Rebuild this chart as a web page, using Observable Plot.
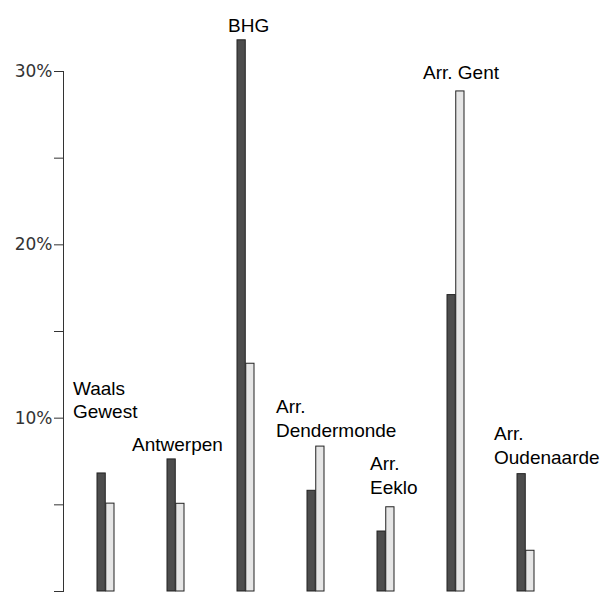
<!DOCTYPE html>
<html><head><meta charset="utf-8">
<script src="https://cdn.jsdelivr.net/npm/d3@7"></script>
<script src="https://cdn.jsdelivr.net/npm/@observablehq/plot@0.6"></script>
<style>body{margin:0;background:#fff}</style>
</head><body><div id="chart"></div>
<script>
const categories = ["Waals Gewest", "Antwerpen", "BHG", "Arr. Dendermonde", "Arr. Eeklo", "Arr. Gent", "Arr. Oudenaarde"];
const labelText = ["Waals\nGewest", "Antwerpen", "BHG", "Arr.\nDendermonde", "Arr.\nEeklo", "Arr. Gent", "Arr.\nOudenaarde"];
const darkValues = [6.81, 7.62, 31.8, 5.81, 3.46, 17.1, 6.77];
const lightValues = [5.07, 5.06, 13.14, 8.36, 4.86, 28.85, 2.35];
const tickValues = [0, 5, 10, 15, 20, 25, 30];
const labeledTicks = [10, 20, 30];

const rows = categories.map((c, i) => ({
  category: c,
  label: labelText[i],
  dark: darkValues[i],
  light: lightValues[i],
  top: Math.max(darkValues[i], lightValues[i])
}));

// annotation nudges (pixels) relative to each group's centre / top
const nudge = [[-33, -55], [-44, -8], [-18, -8], [-40, -10], [-16, -13], [-33, -12], [-32, -10]];

const chart = Plot.plot({
  width: 605,
  height: 594,
  marginLeft: 63,
  marginRight: 36,
  marginTop: 71,
  marginBottom: 3,
  style: {background: "#fff"},
  x: {domain: categories, paddingInner: 0.753, paddingOuter: 0.4475, axis: null},
  y: {domain: [0, 30], axis: null},
  marks: [
    Plot.barY(rows, {x: "category", y: "dark", fill: "#4d4d4d", stroke: "#222", strokeWidth: 1, insetRight: 8.75}),
    Plot.barY(rows, {x: "category", y: "light", fill: "#e6e6e6", stroke: "#222", strokeWidth: 1, insetLeft: 8.75}),
    Plot.frame({anchor: "left", stroke: "#333"}),
    Plot.axisY({
      ticks: tickValues,
      tickFormat: d => labeledTicks.includes(d) ? d + "%" : "",
      tickSize: 9,
      tickPadding: 2,
      fontSize: 17,
      fontFamily: "DejaVu Sans",
      color: "#333",
      stroke: "#333"
    }),
    ...rows.map((r, i) => Plot.text([r], {
      x: "category",
      y: "top",
      text: "label",
      textAnchor: "start",
      lineAnchor: "bottom",
      lineHeight: 1.26,
      dx: nudge[i][0],
      dy: nudge[i][1],
      fontSize: 19,
      fontFamily: "Liberation Sans, Arial, sans-serif",
      fill: "#000"
    }))
  ]
});
document.getElementById("chart").appendChild(chart);
</script>
</body></html>
